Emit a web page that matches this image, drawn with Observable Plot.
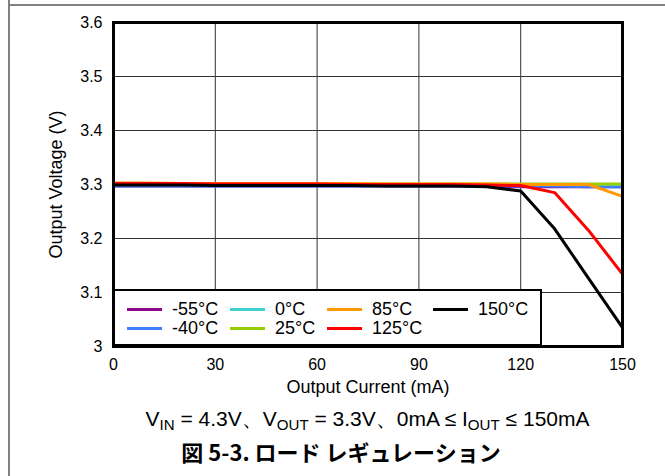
<!DOCTYPE html>
<html>
<head>
<meta charset="utf-8">
<script src="https://cdn.jsdelivr.net/npm/d3@7"></script>
<script src="https://cdn.jsdelivr.net/npm/@observablehq/plot@0.6"></script>
<style>
  html, body { margin: 0; padding: 0; background: #fff; }
  body { width: 665px; height: 476px; position: relative; overflow: hidden;
         font-family: "Liberation Sans", Arial, sans-serif; color: #000; }
  .rule-top { position: absolute; left: 8px; right: 0; top: 4px; height: 2px; background: #808080; }
  .rule-left { position: absolute; left: 8px; top: 0; bottom: 0; width: 2px; background: #808080; }
  #chart { position: absolute; left: 0; top: 0; }
  #legend { position: absolute; left: 113px; top: 289px; width: 429px; height: 57px;
            box-sizing: border-box; border: 2px solid #000; background: #fff;
            display: grid; grid-template-columns: 103px 97px 106px auto;
            grid-template-rows: 19px 19px; grid-auto-flow: column;
            padding: 9px 0 0 12px; }
  .item { display: flex; align-items: center; font-size: 18px; line-height: 19px; white-space: nowrap; }
  .sw { width: 35px; height: 3px; margin-right: 10px; flex: none; }
  #caption { position: absolute; left: 113px; width: 509px; top: 405px; text-align: center;
             font-size: 21px; white-space: nowrap; }
  #caption sub { font-size: 0.72em; vertical-align: -0.25em; line-height: 0; }
  #title { position: absolute; left: 17px; right: 0; top: 435px; text-align: center;
           font-family: "Noto Sans CJK JP", sans-serif; font-weight: bold; font-size: 22px; white-space: nowrap; }
</style>
</head>
<body>
<div class="rule-top"></div>
<div class="rule-left"></div>
<div id="chart"></div>
<div id="legend"></div>
<div id="caption">V<sub>IN</sub> = 4.3V、V<sub>OUT</sub> = 3.3V、0mA ≤ I<sub>OUT</sub> ≤ 150mA</div>
<div id="title">図 5-3. ロード レギュレーション</div>
<script>
// Load current steps (mA)
const current = [0, 10, 20, 30, 40, 50, 60, 70, 80, 90, 100, 110, 120, 130, 140, 150];

// Output voltage (V) per temperature
const vM55 = [3.297, 3.297, 3.297, 3.297, 3.297, 3.297, 3.297, 3.297, 3.297, 3.297, 3.297, 3.297, 3.296, 3.296, 3.296, 3.296];
const vM40 = [3.297, 3.297, 3.297, 3.297, 3.297, 3.297, 3.297, 3.297, 3.297, 3.297, 3.297, 3.297, 3.297, 3.297, 3.296, 3.296];
const v0   = [3.300, 3.300, 3.300, 3.300, 3.300, 3.300, 3.300, 3.300, 3.300, 3.300, 3.300, 3.300, 3.300, 3.300, 3.300, 3.300];
const v25  = [3.301, 3.301, 3.301, 3.301, 3.301, 3.301, 3.301, 3.301, 3.301, 3.301, 3.301, 3.301, 3.301, 3.301, 3.301, 3.301];
const v85  = [3.303, 3.303, 3.302, 3.302, 3.302, 3.302, 3.302, 3.302, 3.301, 3.301, 3.301, 3.301, 3.300, 3.300, 3.300, 3.278];
const v125 = [3.302, 3.302, 3.302, 3.301, 3.301, 3.301, 3.301, 3.300, 3.300, 3.300, 3.300, 3.299, 3.298, 3.285, 3.215, 3.134];
const v150 = [3.299, 3.299, 3.299, 3.298, 3.298, 3.298, 3.298, 3.298, 3.297, 3.297, 3.297, 3.296, 3.288, 3.218, 3.126, 3.035];

const seriesNames = ["-55°C", "-40°C", "0°C", "25°C", "85°C", "125°C", "150°C"];
const seriesValues = [vM55, vM40, v0, v25, v85, v125, v150];
const seriesColors = ["#8B0A8B", "#3F7FFF", "#40D0D0", "#99CC00", "#FF9900", "#FF0000", "#000000"];

const xTicks = [0, 30, 60, 90, 120, 150];
const yTicks = [3, 3.1, 3.2, 3.3, 3.4, 3.5, 3.6];

const rows = seriesNames.flatMap((name, i) =>
  current.map((c, j) => ({ series: name, current: c, voltage: seriesValues[i][j] })));

const chart = Plot.plot({
  width: 665,
  height: 400,
  marginLeft: 113,
  marginRight: 43,
  marginTop: 22,
  marginBottom: 54,
  style: { fontFamily: "Liberation Sans, Arial, sans-serif", fontSize: "16px", color: "#000", background: "transparent" },
  x: { domain: [0, 150] },
  y: { domain: [3, 3.6] },
  color: { domain: seriesNames, range: seriesColors },
  marks: [
    Plot.gridX(xTicks, { stroke: "#333", strokeOpacity: 1, strokeWidth: 1 }),
    Plot.gridY(yTicks, { stroke: "#333", strokeOpacity: 1, strokeWidth: 1 }),
    Plot.line(rows, { x: "current", y: "voltage", z: "series", stroke: "series", strokeWidth: 3, strokeLinejoin: "miter" }),
    Plot.frame({ stroke: "#000", strokeWidth: 3 }),
    Plot.axisX(xTicks, { tickSize: 0, tickPadding: 12, fontSize: 16, label: null }),
    Plot.axisX({ ticks: [], label: "Output Current (mA)", labelAnchor: "center", labelOffset: 46, labelArrow: "none", fontSize: 18 }),
    Plot.axisY(yTicks, { tickSize: 0, tickPadding: 11, fontSize: 16, label: null, tickFormat: d => String(+d.toFixed(1)) }),
    Plot.axisY({ ticks: [], label: "Output Voltage (V)", labelAnchor: "center", labelOffset: 64, labelArrow: "none", fontSize: 18 })
  ]
});
document.getElementById("chart").appendChild(chart);

// Legend: two rows, filled column by column
const legend = document.getElementById("legend");
seriesNames.forEach((name, i) => {
  const item = document.createElement("div");
  item.className = "item";
  const sw = document.createElement("span");
  sw.className = "sw";
  sw.style.background = seriesColors[i];
  const label = document.createElement("span");
  label.textContent = name;
  item.append(sw, label);
  legend.appendChild(item);
});
</script>
</body>
</html>
